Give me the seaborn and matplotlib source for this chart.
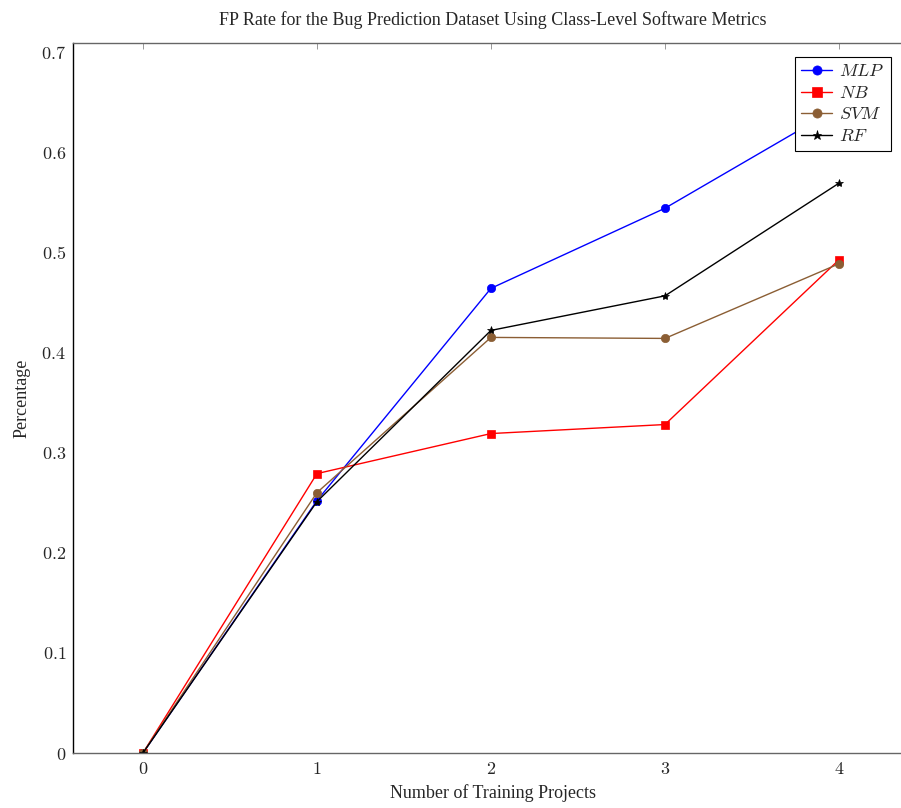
import matplotlib
matplotlib.use("Agg")
import matplotlib.pyplot as plt
import seaborn as sns
import pandas as pd

x_vals = [0, 1, 2, 3, 4]
mlp = [0.0, 0.252, 0.464, 0.544, 0.645]
nb = [0.0, 0.279, 0.319, 0.328, 0.4925]
svm = [0.0, 0.260, 0.415, 0.414, 0.4885]
rf = [0.0, 0.251, 0.422, 0.4565, 0.569]
series_names = ["$MLP$", "$NB$", "$SVM$", "$RF$"]

sns.set_style("white")
plt.rcParams["mathtext.fontset"] = "cm"
plt.rcParams["font.family"] = ["Liberation Serif", "DejaVu Serif"]

rows = []
for name, vals in zip(series_names, [mlp, nb, svm, rf]):
    for xv, yv in zip(x_vals, vals):
        rows.append({"x": xv, "y": yv, "series": name})
df = pd.DataFrame(rows)

fig = plt.figure(figsize=(9.01, 8.08), dpi=100)
ax_w_px = 840
ax = fig.add_axes([73/901, 55/808, ax_w_px/901, 710/808])

palette = {"$MLP$": "#0000ff", "$NB$": "#ff0000", "$SVM$": "#8B5E34", "$RF$": "#000000"}
markers = {"$MLP$": "o", "$NB$": "s", "$SVM$": "o", "$RF$": "*"}
sns.lineplot(data=df, x="x", y="y", hue="series", style="series",
             palette=palette, markers=markers, dashes=False,
             markersize=6, linewidth=1.0, markeredgewidth=0.5, ax=ax)
for line in ax.lines:
    line.set_markeredgecolor(line.get_color())

ax.set_xlim(-0.402, -0.402 + ax_w_px / 174.0)
ax.set_ylim(0, 0.709)
ax.set_xticks(x_vals)
ax.set_xticklabels([f"${v}$" for v in x_vals])
yt = [0, 0.1, 0.2, 0.3, 0.4, 0.5, 0.6, 0.7]
ax.set_yticks(yt)
ax.set_yticklabels(["$0$"] + [f"${v:.1f}$" for v in yt[1:]])
ax.tick_params(axis="both", direction="in", length=4, labelsize=13, width=0.6,
               color="#888888", top=True, right=False)
ax.tick_params(axis="x", pad=6)
ax.tick_params(axis="y", pad=5)
for s in ["top", "bottom", "right"]:
    ax.spines[s].set_color("#666666")
    ax.spines[s].set_linewidth(1.0)
ax.spines["left"].set_color("black")
ax.spines["left"].set_linewidth(1.0)

ax.set_xlabel("Number of Training Projects", fontsize=13, labelpad=4)
ax.set_ylabel("Percentage", fontsize=13, labelpad=8)
ax.set_title("FP Rate for the Bug Prediction Dataset Using Class-Level Software Metrics",
             fontsize=13, pad=13)

leg = ax.legend(loc="upper right", bbox_to_anchor=((891-73)/ax_w_px, (753-57)/710),
                fontsize=13, frameon=True, fancybox=False, edgecolor="black",
                framealpha=1, borderpad=0.35, labelspacing=0.25, handlelength=1.7,
                handletextpad=0.4, borderaxespad=0, markerscale=1.1)
leg.get_frame().set_linewidth(0.8)
leg.set_zorder(10)
for h in leg.legend_handles:
    h.set_markeredgecolor(h.get_color())

fig.savefig("out.png", dpi=100)
